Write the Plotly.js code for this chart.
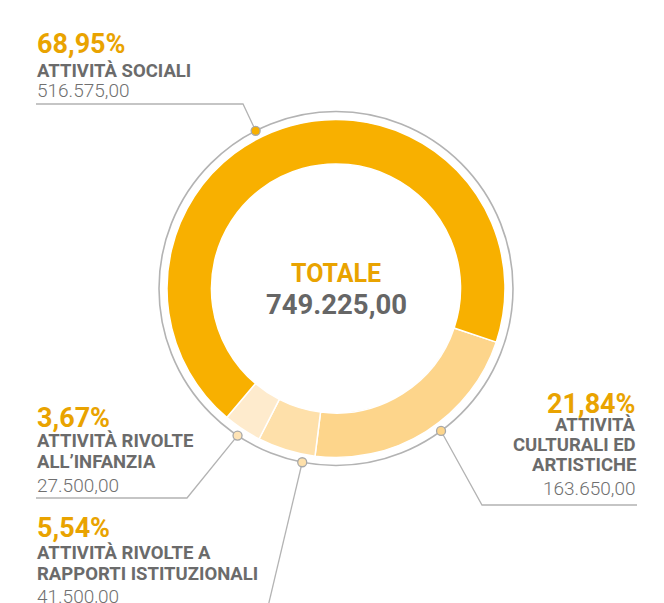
<!DOCTYPE html>
<html>
<head>
<meta charset="utf-8">
<script src="https://cdn.plot.ly/plotly-3.0.1.min.js"></script>
<style>
  html, body { margin: 0; padding: 0; background: #ffffff; }
  #chart { width: 664px; height: 603px; }
</style>
</head>
<body>
<div id="chart"></div>
<script>
// ---------------- DATA ----------------
const categories = [
  'ATTIVITÀ CULTURALI ED ARTISTICHE',
  'ATTIVITÀ RIVOLTE A RAPPORTI ISTITUZIONALI',
  'ATTIVITÀ RIVOLTE ALL’INFANZIA',
  'ATTIVITÀ SOCIALI'
];
const values = [163650, 41500, 27500, 516575];
const labelLines = [
  ['ATTIVITÀ', 'CULTURALI ED', 'ARTISTICHE'],
  ['ATTIVITÀ RIVOLTE A', 'RAPPORTI ISTITUZIONALI'],
  ['ATTIVITÀ RIVOLTE', 'ALL’INFANZIA'],
  ['ATTIVITÀ SOCIALI']
];
const totalTitle = 'TOTALE';

// ---------------- STYLE ----------------
const sliceColors = ['#FDD58B', '#FEE0AA', '#FEEBCD', '#F8B000'];
const dotColors   = ['#FDD58B', '#FEE0AA', '#FEE3B5', '#F8B000'];
const orangeText = '#E9A300';
const grayText = '#6B6B6B';
const numText = '#707070';
const ringGray = '#B3B3B3';
const FONT = 'Roboto, Liberation Sans, sans-serif';

const W = 664, H = 603;
const cx = 336, cy = 288.5, rPie = 169, rRing = 177;

// per-category label placement (pixels)
const blocks = [
  { x: 637, anchor: 'right', yPct: 403.5, yLines: [425, 445, 465], yNum: 488.5,
    dotAngle: -53.6, path: [[482, 505], [637, 505]] },
  { x: 36, anchor: 'left', yPct: 528, yLines: [552.5, 573.5], yNum: 596,
    dotAngle: -101, path: [[266, 615]] },
  { x: 36, anchor: 'left', yPct: 418, yLines: [441, 462], yNum: 485,
    dotAngle: -123.8, path: [[187, 498], [36, 498]] },
  { x: 36, anchor: 'left', yPct: 43.5, yLines: [70.5], yNum: 90.5,
    dotAngle: 117, path: [[243, 104], [36, 104]] }
];

// ---------------- HELPERS ----------------
function itNum(v, dec) {
  const fixed = v.toFixed(dec);
  let [ip, fp] = fixed.split('.');
  ip = ip.replace(/\B(?=(\d{3})+(?!\d))/g, '.');
  return fp !== undefined ? ip + ',' + fp : ip;
}
const total = values.reduce((a, b) => a + b, 0);
const pctLabels = values.map(v => itNum(v / total * 100, 2) + '%');
const valLabels = values.map(v => itNum(v, 2));

function ann(text, x, y, size, color, weight, xanchor) {
  return {
    text: text, x: x, y: y, xref: 'x', yref: 'y',
    xanchor: xanchor, yanchor: 'middle', showarrow: false,
    align: xanchor, borderpad: 0,
    font: { family: FONT, size: size, color: color, weight: weight }
  };
}

// ---------------- BUILD ----------------
const annotations = [];
const shapes = [];
const dotX = [], dotY = [];

blocks.forEach((b, i) => {
  annotations.push(ann(pctLabels[i], b.x, b.yPct, 27, orangeText, 700, b.anchor));
  labelLines[i].forEach((ln, k) => {
    annotations.push(ann(ln, b.x, b.yLines[k], 18.5, grayText, 700, b.anchor));
  });
  annotations.push(ann(valLabels[i], b.x, b.yNum, 19, numText, 300, b.anchor));

  const a = b.dotAngle * Math.PI / 180;
  const dx = cx + rRing * Math.cos(a);
  const dy = cy - rRing * Math.sin(a);
  dotX.push(dx); dotY.push(dy);
  let p = 'M ' + dx + ' ' + dy;
  b.path.forEach(pt => { p += ' L ' + pt[0] + ' ' + pt[1]; });
  shapes.push({ type: 'path', xref: 'x', yref: 'y', path: p,
    line: { color: ringGray, width: 1.3 }, layer: 'below' });
});

// outer thin ring
shapes.push({ type: 'circle', xref: 'x', yref: 'y',
  x0: cx - rRing, x1: cx + rRing, y0: cy - rRing, y1: cy + rRing,
  line: { color: ringGray, width: 1.6 }, layer: 'below' });

// center text
annotations.push(ann(totalTitle, cx, 273, 25, orangeText, 700, 'center'));
annotations.push(ann(itNum(total, 2), cx, 304.5, 27.5, '#666666', 700, 'center'));

const pieTrace = {
  type: 'pie',
  values: values,
  labels: categories,
  sort: false,
  direction: 'clockwise',
  rotation: 108.5,
  hole: 0.737,
  textinfo: 'none',
  hoverinfo: 'none',
  showlegend: false,
  marker: { colors: sliceColors, line: { color: '#ffffff', width: 1.5 } },
  domain: {
    x: [(cx - rPie) / W, (cx + rPie) / W],
    y: [1 - (cy + rPie) / H, 1 - (cy - rPie) / H]
  }
};

const dotTrace = {
  type: 'scatter', mode: 'markers', x: dotX, y: dotY,
  hoverinfo: 'skip', showlegend: false, cliponaxis: false,
  marker: { size: 9, color: dotColors, line: { color: '#A8A8A8', width: 1.3 } }
};

const layout = {
  width: W, height: H,
  margin: { l: 0, r: 0, t: 0, b: 0 },
  paper_bgcolor: '#ffffff', plot_bgcolor: 'rgba(0,0,0,0)',
  xaxis: { range: [0, W], visible: false, fixedrange: true },
  yaxis: { range: [H, 0], visible: false, fixedrange: true },
  showlegend: false,
  annotations: annotations,
  shapes: shapes
};

Plotly.newPlot('chart', [pieTrace, dotTrace], layout, { staticPlot: true, displayModeBar: false });
</script>
</body>
</html>
